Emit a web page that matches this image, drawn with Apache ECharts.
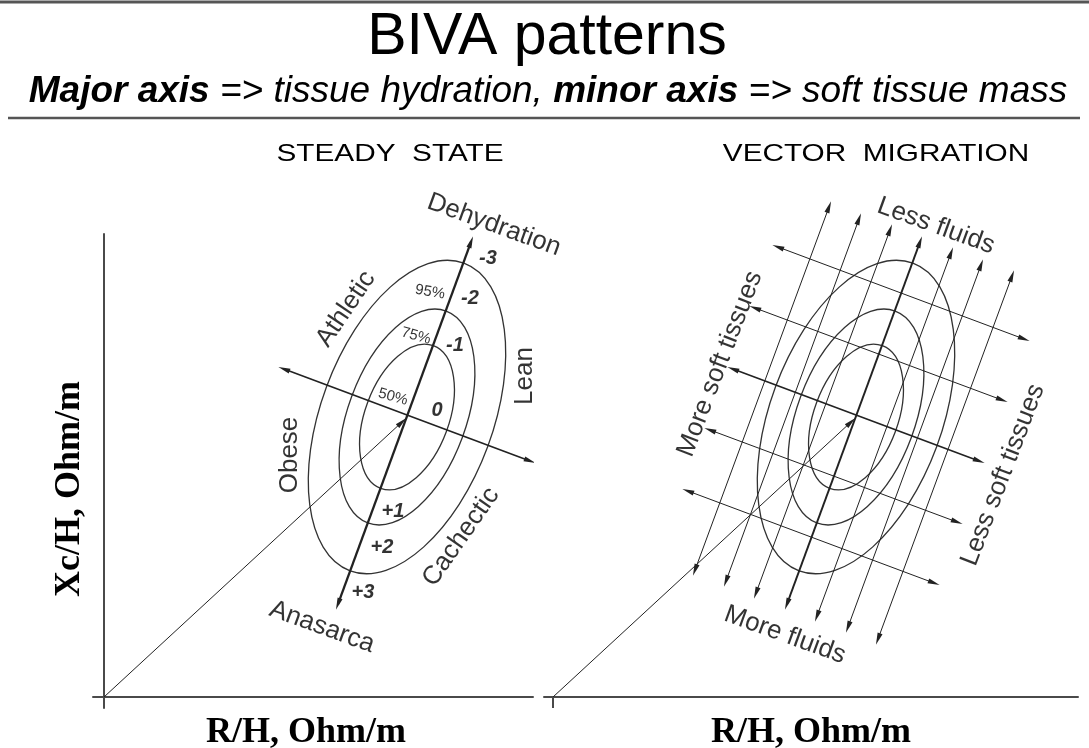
<!DOCTYPE html>
<html><head><meta charset="utf-8">
<script src="https://cdn.jsdelivr.net/npm/echarts@6/dist/echarts.min.js"></script>
<style>html,body{margin:0;padding:0;background:#fff}#c{width:1089px;height:748px}</style>
</head><body><div id="c"></div>
<script>
// ---------- data (R/H and Xc/H in arbitrary equal units) ----------
const ellipseLevels = ['95%', '75%', '50%'];
const ellipseSemiMajor = [164, 113, 76];
const ellipseSemiMinor = [86, 59, 42];
const ellipseCenter = [303, 280];
const majorAxisAngle = 69.7; // degrees, direction of the major axis

const steadyMajorAxis = [[234, 93], [367, 455]];
const steadyMinorAxis = [[180, 328], [426, 236]];
const steadyVector = [[0, 0], [298, 275]];

const scaleTickLabels = ['-3', '-2', '-1', '0', '+1', '+2', '+3'];
const scaleTickAnchors = [[384, 439], [366, 399], [351, 352], [333, 287], [289, 186], [278, 150], [259, 105]];
const percentAnchors = [[326, 405], [312, 361], [289, 300]];

const steadyLabels = ['Dehydration', 'Anasarca', 'Athletic', 'Lean', 'Obese', 'Cachectic'];
const steadyLabelAnchors = [[390, 472], [218, 70], [242, 388], [421, 321], [186, 242], [357, 160]];
const steadyLabelAngles = [-20, -20, 56, 90, 90, 55];

const migrationMajorLines = [
  [[142, 127], [276, 490]],
  [[173, 116], [306, 478]],
  [[203, 104], [337, 467]],
  [[234, 93], [367, 455]],
  [[264, 81], [398, 444]],
  [[295, 70], [428, 432]],
  [[325, 58], [459, 421]]
];
const migrationMinorLines = [
  [[225, 450], [471, 358]],
  [[202, 389], [449, 297]],
  [[180, 328], [426, 236]],
  [[157, 267], [404, 175]],
  [[135, 206], [381, 114]]
];
const migrationVector = [[0, 0], [298, 275]];
const migrationLabels = ['Less fluids', 'More fluids', 'More soft tissues', 'Less soft tissues'];
const migrationLabelAnchors = [[383, 471], [232, 62], [167, 333], [450, 222]];
const migrationLabelAngles = [-20, -20, 69, 69];

const titleText = 'BIVA patterns';
const panelTitles = ['STEADY  STATE', 'VECTOR  MIGRATION'];
const xName = 'R/H, Ohm/m';
const yName = 'Xc/H, Ohm/m';

// ---------- build ----------
const SANS = 'Liberation Sans, Arial, sans-serif';
const SERIF = 'Liberation Serif, Times New Roman, serif';
const ARROW = 'path://M0,0L2.6,12L-2.6,12ZM-6,0M6,12';

const ellipseRows = ellipseLevels.map((l, i) => [ellipseCenter[0], ellipseCenter[1], ellipseSemiMajor[i], ellipseSemiMinor[i], majorAxisAngle]);

function ellipseSeries(idx) {
  return {
    type: 'custom', xAxisIndex: idx, yAxisIndex: idx, silent: true,
    encode: { x: 0, y: 1 },
    data: ellipseRows,
    renderItem: function (params, api) {
      const c = api.coord([api.value(0), api.value(1)]);
      const s = api.size([api.value(2), api.value(3)]);
      return {
        type: 'ellipse', x: c[0], y: c[1], rotation: api.value(4) * Math.PI / 180,
        shape: { cx: 0, cy: 0, rx: s[0], ry: s[1] },
        style: { fill: 'none', stroke: '#333', lineWidth: 1.3 }
      };
    }
  };
}

function linesSeries(idx, segs, symbols, widths) {
  return {
    type: 'lines', coordinateSystem: 'cartesian2d', xAxisIndex: idx, yAxisIndex: idx,
    silent: true, symbol: symbols.map(v => v === 'arrow' ? ARROW : v), symbolSize: 12,
    lineStyle: { color: '#222', width: 1, opacity: 1 },
    data: segs.map((s, i) => ({ coords: s, lineStyle: { width: widths[i] } }))
  };
}

function labelSeries(idx, names, anchors, angles, style) {
  return {
    type: 'scatter', xAxisIndex: idx, yAxisIndex: idx, silent: true, clip: false,
    symbolSize: 1, itemStyle: { color: 'rgba(0,0,0,0)' },
    label: Object.assign({ show: true, position: 'inside', formatter: '{b}', color: '#000',
      textBorderWidth: 0, fontFamily: SANS, align: 'center', verticalAlign: 'middle' }, style),
    data: names.map((n, i) => ({ name: n, value: anchors[i], label: { rotate: angles ? angles[i] : 0 } }))
  };
}

const axisLineStyle = { color: '#4a4a4a', width: 2 };
const nameStyle = { fontFamily: SERIF, fontWeight: 'bold', fontSize: 36, color: '#000' };

const option = {
  animation: false,
  backgroundColor: '#fff',
  grid: [
    { left: 93, top: 234, width: 440, height: 474, containLabel: false, outerBoundsMode: 'none' },
    { left: 544, top: 190, width: 534, height: 507, containLabel: false, outerBoundsMode: 'none' }
  ],
  xAxis: [
    { type: 'value', gridIndex: 0, min: -11, max: 429, name: xName, nameLocation: 'middle', nameGap: 7,
      nameTextStyle: Object.assign({ padding: [0, 14, 0, 0] }, nameStyle),
      axisLine: { show: true, onZero: true, lineStyle: axisLineStyle }, axisTick: { show: false },
      axisLabel: { show: false }, splitLine: { show: false } },
    { type: 'value', gridIndex: 1, min: -9, max: 525, name: xName, nameLocation: 'middle', nameGap: 18,
      nameTextStyle: nameStyle,
      axisLine: { show: true, onZero: false, lineStyle: axisLineStyle },
      axisTick: { show: true, customValues: [0], length: 11, lineStyle: axisLineStyle },
      axisLabel: { show: false }, splitLine: { show: false } }
  ],
  yAxis: [
    { type: 'value', gridIndex: 0, min: -11, max: 463, name: yName, nameLocation: 'middle', nameGap: 5, nameRotate: 90,
      nameTextStyle: Object.assign({ padding: [0, 36, 0, 0] }, nameStyle),
      axisLine: { show: true, onZero: true, lineStyle: axisLineStyle }, axisTick: { show: false },
      axisLabel: { show: false }, splitLine: { show: false } },
    { type: 'value', gridIndex: 1, min: 0, max: 507, show: false, splitLine: { show: false } }
  ],
  graphic: [
    { type: 'line', shape: { x1: 0, y1: 2, x2: 1089, y2: 2 }, style: { stroke: '#555', lineWidth: 3 } },
    { type: 'line', shape: { x1: 8, y1: 118, x2: 1080, y2: 118 }, style: { stroke: '#555', lineWidth: 2.5 } },
    { type: 'text', style: { text: titleText, x: 547, y: 38, textAlign: 'center', textVerticalAlign: 'middle',
        fill: '#000', fontFamily: SANS, fontSize: 59 } },
    { type: 'text', style: { text: '{b|Major axis} => tissue hydration, {b|minor axis} => soft tissue mass',
        x: 548, y: 92, textAlign: 'center', textVerticalAlign: 'middle', fill: '#000',
        fontFamily: SANS, fontSize: 37, fontStyle: 'italic',
        rich: { b: { fontFamily: SANS, fontSize: 37, fontStyle: 'italic', fontWeight: 'bold', fill: '#000' } } } },
    { type: 'text', x: 390, y: 154, scaleX: 1.24, style: { text: panelTitles[0], x: 0, y: 0, textAlign: 'center', textVerticalAlign: 'middle',
        fill: '#000', fontFamily: SANS, fontSize: 24 } },
    { type: 'text', x: 876, y: 154, scaleX: 1.24, style: { text: panelTitles[1], x: 0, y: 0, textAlign: 'center', textVerticalAlign: 'middle',
        fill: '#000', fontFamily: SANS, fontSize: 24 } }
  ],
  series: [
    ellipseSeries(0),
    ellipseSeries(1),
    linesSeries(0, [steadyMajorAxis, steadyMinorAxis], ['arrow', 'arrow'], [2.2, 1.6]),
    linesSeries(0, [steadyVector], ['none', 'arrow'], [1]),
    linesSeries(1, migrationMajorLines, ['arrow', 'arrow'], [1, 1, 1, 2, 1, 1, 1]),
    linesSeries(1, migrationMinorLines, ['arrow', 'arrow'], [1, 1, 1.6, 1, 1]),
    linesSeries(1, [migrationVector], ['none', 'arrow'], [1]),
    labelSeries(0, steadyLabels, steadyLabelAnchors, steadyLabelAngles, { fontSize: 26 }),
    labelSeries(0, scaleTickLabels, scaleTickAnchors, null, { fontSize: 20, fontWeight: 'bold', fontStyle: 'italic' }),
    labelSeries(0, ellipseLevels, percentAnchors, [-10, -15, -15], { fontSize: 15 }),
    labelSeries(1, migrationLabels, migrationLabelAnchors, migrationLabelAngles, { fontSize: 26 })
  ]
};

const chart = echarts.init(document.getElementById('c'), null, { renderer: 'canvas' });
chart.setOption(option);
</script></body></html>
